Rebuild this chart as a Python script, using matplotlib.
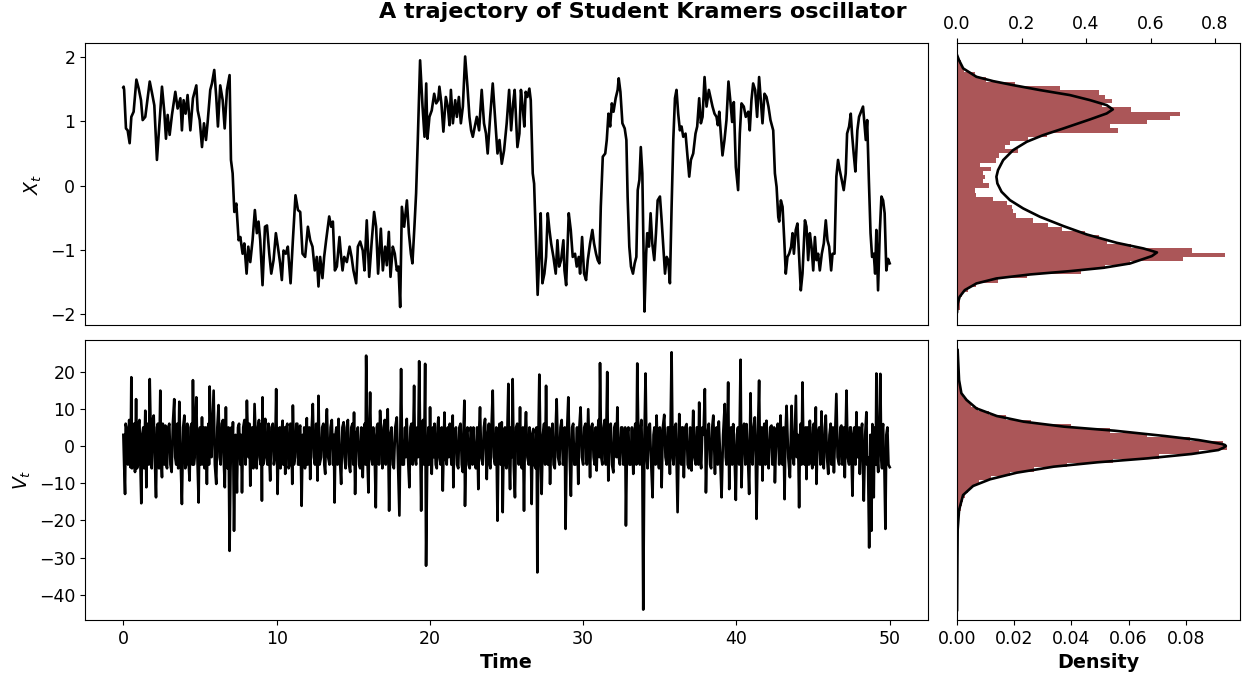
import numpy as np
import matplotlib
matplotlib.use("Agg")
import matplotlib.pyplot as plt

# =========================
# Position trajectory X_t
# =========================
x_time = [
    0.0, 0.02, 0.05, 0.17, 0.28, 0.41, 0.52, 0.67, 0.85, 1.0, 1.15, 1.26,
    1.43, 1.54, 1.72, 1.87, 2.02, 2.19, 2.37, 2.52, 2.67, 2.78, 2.89, 3.02,
    3.17, 3.39, 3.54, 3.72, 3.82, 3.93, 4.06, 4.19, 4.37, 4.54, 4.76, 4.85,
    4.98, 5.13, 5.26, 5.39, 5.50, 5.67, 5.78, 5.93, 6.06, 6.17, 6.32, 6.48,
    6.61, 6.76, 6.93, 7.02, 7.13, 7.24, 7.37, 7.52, 7.63, 7.78, 7.89, 8.04,
    8.15, 8.28, 8.43, 8.58, 8.71, 8.82, 8.93, 9.08, 9.24, 9.37, 9.52, 9.65,
    9.80, 9.95, 10.08, 10.23, 10.34, 10.45, 10.60, 10.73, 10.91, 11.06, 11.23, 11.39,
    11.54, 11.69, 11.86, 12.04, 12.19, 12.34, 12.49, 12.62, 12.73, 12.84, 12.99, 13.10,
    13.23, 13.43, 13.56, 13.67, 13.80, 13.93, 14.10, 14.21, 14.30, 14.41, 14.58, 14.76,
    14.89, 15.01, 15.19, 15.30, 15.45, 15.62, 15.73, 15.88, 16.04, 16.21, 16.36, 16.49,
    16.62, 16.80, 16.93, 17.08, 17.19, 17.32, 17.43, 17.58, 17.71, 17.84, 17.95, 18.06,
    18.17, 18.32, 18.50, 18.63, 18.76, 18.86, 18.99, 19.10, 19.21, 19.36, 19.52, 19.65,
    19.76, 19.84, 19.97, 20.12, 20.28, 20.41, 20.54, 20.62, 20.75, 20.88, 21.04, 21.17,
    21.28, 21.37, 21.50, 21.65, 21.76, 21.89, 22.02, 22.15, 22.30, 22.45, 22.58, 22.69,
    22.80, 22.93, 23.06, 23.21, 23.38, 23.53, 23.66, 23.77, 23.93, 24.10, 24.25, 24.41,
    24.54, 24.69, 24.84, 25.01, 25.17, 25.30, 25.43, 25.53, 25.71, 25.84, 25.94, 26.05,
    26.16, 26.25, 26.36, 26.49, 26.58, 26.71, 26.80, 26.92, 27.03, 27.14, 27.23, 27.34,
    27.47, 27.58, 27.69, 27.80, 27.91, 28.06, 28.21, 28.32, 28.43, 28.56, 28.71, 28.78,
    28.89, 29.06, 29.19, 29.32, 29.47, 29.58, 29.71, 29.80, 29.93, 30.06, 30.19, 30.30,
    30.45, 30.60, 30.71, 30.84, 30.95, 31.06, 31.15, 31.28, 31.44, 31.54, 31.65, 31.76,
    31.87, 31.98, 32.12, 32.25, 32.32, 32.43, 32.56, 32.71, 32.82, 32.90, 33.01, 33.12,
    33.25, 33.36, 33.47, 33.56, 33.67, 33.76, 33.86, 34.00, 34.11, 34.18, 34.29, 34.40,
    34.51, 34.64, 34.75, 34.86, 35.01, 35.12, 35.23, 35.34, 35.45, 35.55, 35.66, 35.77,
    35.88, 35.99, 36.09, 36.20, 36.31, 36.42, 36.53, 36.68, 36.81, 36.92, 37.03, 37.18,
    37.33, 37.44, 37.57, 37.68, 37.79, 37.92, 38.05, 38.20, 38.44, 38.57, 38.70, 38.79,
    38.88, 38.98, 39.09, 39.22, 39.35, 39.48, 39.61, 39.72, 39.83, 39.96, 40.11, 40.22,
    40.33, 40.48, 40.61, 40.77, 40.87, 40.98, 41.09, 41.22, 41.35, 41.48, 41.59, 41.70,
    41.83, 41.96, 42.09, 42.22, 42.40, 42.51, 42.62, 42.73, 42.79, 42.90, 43.01, 43.12,
    43.22, 43.33, 43.44, 43.57, 43.66, 43.75, 43.87, 43.98, 44.09, 44.20, 44.31, 44.47,
    44.57, 44.68, 44.79, 44.90, 45.01, 45.12, 45.22, 45.33, 45.44, 45.57, 45.70, 45.83,
    45.94, 46.05, 46.18, 46.27, 46.40, 46.52, 46.63, 46.74, 46.87, 47.00, 47.13, 47.22,
    47.35, 47.46, 47.54, 47.65, 47.76, 47.89, 48.00, 48.13, 48.26, 48.35, 48.44, 48.53,
    48.64, 48.75, 48.85, 48.96, 49.05, 49.13, 49.24, 49.35, 49.46, 49.57, 49.67, 49.78,
    49.89, 50.0,
]
x_value = [
    1.53, 1.54, 1.49, 0.89, 0.86, 0.66, 1.07, 1.15, 1.65, 1.51, 1.33, 1.02,
    1.07, 1.28, 1.62, 1.44, 1.25, 0.40, 1.02, 1.54, 1.15, 0.73, 1.10, 0.79,
    1.10, 1.46, 1.20, 1.36, 0.86, 1.33, 1.12, 1.41, 0.86, 1.36, 1.56, 1.17,
    1.02, 0.60, 0.97, 0.71, 0.99, 1.49, 1.59, 1.80, 1.38, 0.92, 1.56, 1.33,
    0.89, 1.49, 1.72, 0.40, 0.19, -0.41, -0.28, -0.85, -0.80, -1.06, -0.90, -1.37,
    -0.95, -1.19, -0.85, -0.38, -0.74, -0.56, -0.85, -1.55, -0.64, -0.62, -1.06, -1.37,
    -1.16, -0.74, -0.95, -1.21, -1.47, -1.01, -1.06, -0.95, -1.52, -0.85, -0.15, -0.38,
    -0.41, -1.06, -1.11, -0.64, -0.85, -0.95, -1.32, -1.11, -1.57, -1.11, -1.44, -1.11,
    -0.85, -0.48, -0.64, -0.56, -1.32, -1.26, -0.80, -1.11, -1.32, -1.11, -1.19, -0.95,
    -1.11, -1.32, -1.52, -0.95, -0.87, -1.01, -1.32, -0.54, -1.42, -0.85, -0.41, -0.64,
    -1.37, -0.67, -1.32, -0.95, -1.24, -0.72, -1.42, -0.95, -1.06, -1.32, -1.26, -1.89,
    -0.33, -0.64, -0.23, -0.74, -1.06, -1.21, -0.64, -0.12, 0.71, 1.95, 1.23, 0.76,
    1.59, 0.73, 1.07, 1.17, 1.43, 1.28, 1.33, 1.54, 1.28, 0.84, 1.38, 1.23,
    0.94, 1.49, 0.97, 1.33, 1.07, 1.38, 0.97, 1.23, 2.01, 1.54, 1.07, 0.86,
    0.76, 0.92, 1.07, 0.86, 1.49, 0.97, 0.81, 0.50, 1.07, 1.59, 1.07, 0.50,
    0.71, 0.34, 0.55, 0.97, 1.49, 0.86, 1.28, 1.49, 0.60, 0.81, 1.49, 1.23,
    0.92, 1.46, 1.38, 1.51, 1.33, 0.19, 0.03, -0.90, -1.70, -1.06, -0.43, -1.52,
    -1.37, -1.11, -0.43, -0.69, -0.90, -1.11, -1.37, -0.85, -1.26, -1.16, -0.85, -1.32,
    -1.55, -0.43, -0.69, -1.11, -1.06, -1.26, -1.11, -1.37, -0.80, -1.37, -1.47, -1.16,
    -0.90, -0.69, -0.90, -1.06, -1.16, -1.21, -0.33, 0.45, 0.50, 0.71, 1.12, 0.92,
    1.28, 1.15, 1.36, 1.49, 1.67, 1.46, 0.97, 0.89, 0.71, -0.17, -0.95, -1.26,
    -1.37, -1.21, -1.11, -0.07, 0.09, 0.60, 0.19, -1.96, -1.06, -0.74, -0.95, -0.43,
    -0.90, -1.16, -0.74, -0.23, -0.17, -0.54, -0.95, -1.37, -1.11, -1.16, -1.52, -0.33,
    0.71, 1.36, 1.49, 1.12, 0.86, 0.92, 0.76, 0.81, 0.45, 0.14, 0.40, 0.50,
    0.81, 0.92, 1.36, 0.97, 1.07, 1.69, 1.23, 1.49, 1.23, 1.12, 1.07, 0.94,
    1.15, 0.81, 0.47, 0.71, 1.02, 1.62, 1.30, 0.99, 1.30, 0.29, -0.07, 0.81,
    1.28, 1.23, 1.07, 1.15, 0.86, 1.33, 1.59, 1.49, 1.07, 1.69, 1.33, 0.97,
    1.43, 1.38, 1.23, 1.02, 0.86, 0.19, -0.02, -0.49, -0.56, -0.23, -0.33, -0.85,
    -1.37, -1.11, -1.06, -0.95, -0.74, -1.06, -0.69, -0.59, -1.11, -1.63, -1.37, -0.54,
    -0.64, -1.16, -0.74, -0.95, -1.32, -0.80, -1.16, -1.06, -1.32, -1.06, -0.90, -0.54,
    -0.85, -0.95, -1.32, -1.06, -1.06, 0.14, 0.40, 0.24, 0.09, -0.07, 0.19, 0.81,
    0.92, 1.12, 0.81, 0.50, 0.22, 0.86, 1.07, 1.15, 1.23, 0.97, 0.71, 1.02,
    0.09, -0.74, -1.11, -1.06, -1.37, -0.69, -1.63, -0.74, -0.17, -0.23, -0.43, -1.32,
    -1.14, -1.21,
]

# =========================
# Velocity trajectory V_t
# =========================
v_time = [
    0.0, 0.05, 0.11, 0.15, 0.2, 0.25, 0.3, 0.38, 0.46, 0.49, 0.52, 0.56,
    0.6, 0.65, 0.7, 0.76, 0.83, 0.89, 0.95, 1.0, 1.05, 1.11, 1.17, 1.23,
    1.3, 1.36, 1.43, 1.46, 1.50, 1.55, 1.6, 1.66, 1.72, 1.78, 1.85, 1.91,
    1.98, 2.05, 2.13, 2.19, 2.25, 2.33, 2.41, 2.46, 2.52, 2.57, 2.62, 2.68,
    2.74, 2.8, 2.85, 2.92, 3.0, 3.07, 3.15, 3.23, 3.32, 3.38, 3.45, 3.52,
    3.58, 3.65, 3.73, 3.82, 3.9, 3.98, 4.04, 4.1, 4.17, 4.24, 4.32, 4.38,
    4.45, 4.5,
    4.54, 4.6, 4.65, 4.7, 4.76, 4.83, 4.91, 4.96, 5.0, 5.06, 5.13, 5.2,
    5.25, 5.3, 5.38, 5.45, 5.5, 5.55, 5.59, 5.63, 5.69, 5.75, 5.82, 5.89, 5.97,
    6.06, 6.13, 6.21, 6.28, 6.35, 6.42, 6.5, 6.56, 6.62, 6.69, 6.74, 6.8,
    6.86, 6.93, 6.99, 7.05, 7.1, 7.15, 7.22, 7.27, 7.32, 7.37,
    7.41, 7.48, 7.55, 7.63, 7.68, 7.74, 7.82, 7.9, 7.98, 8.06, 8.12, 8.17,
    8.22, 8.28, 8.34, 8.4, 8.48, 8.56, 8.63, 8.7, 8.78, 8.85, 8.9, 8.96, 9.0,
    9.04, 9.08, 9.12, 9.17, 9.21, 9.26, 9.33, 9.4, 9.47, 9.52, 9.58, 9.66,
    9.75, 9.82, 9.88, 9.93, 9.97, 10.06, 10.13, 10.2, 10.25, 10.3, 10.35,
    10.39, 10.43, 10.47, 10.52, 10.56, 10.63, 10.7, 10.78, 10.85, 10.9, 10.95, 10.99,
    11.02, 11.06, 11.13, 11.2, 11.28, 11.35, 11.4, 11.45, 11.5, 11.54, 11.58,
    11.63, 11.7, 11.76, 11.8, 11.85, 11.9, 11.94, 11.97, 12.02, 12.08, 12.13, 12.19,
    12.27, 12.36, 12.43, 12.5, 12.58, 12.67, 12.73, 12.8, 12.9, 12.97, 13.05, 13.11,
    13.17, 13.22, 13.28, 13.36, 13.45, 13.52, 13.6, 13.68, 13.73, 13.78, 13.84, 13.9,
    13.97, 14.04, 14.12, 14.21, 14.29, 14.37, 14.43, 14.5, 14.57, 14.65, 14.72, 14.8, 14.87,
    14.95, 15.0, 15.05, 15.09, 15.12, 15.2, 15.3, 15.38, 15.45, 15.53, 15.62, 15.69,
    15.75, 15.8, 15.84, 15.92, 15.99, 16.05, 16.10, 16.17, 16.25, 16.3, 16.35, 16.41,
    16.47, 16.53, 16.6, 16.68, 16.75, 16.82, 16.9, 16.98, 17.05, 17.12, 17.18, 17.25,
    17.34, 17.42, 17.5, 17.58, 17.65, 17.74, 17.84, 17.92, 18.01, 18.12, 18.2,
    18.3, 18.38, 18.43, 18.49, 18.57, 18.66, 18.73, 18.8, 18.88, 18.97, 19.03, 19.1,
    19.17, 19.23, 19.30, 19.43, 19.49, 19.55, 19.62, 19.69, 19.75, 19.82, 19.9, 19.96,
    20.01, 20.06, 20.12, 20.2, 20.25, 20.3, 20.38, 20.45, 20.5, 20.56, 20.63, 20.7,
    20.77, 20.84, 20.95, 21.02, 21.1, 21.17, 21.23, 21.3, 21.4, 21.49, 21.53, 21.6,
    21.7, 21.77, 21.85, 21.92, 22.0, 22.08, 22.15, 22.2, 22.25, 22.29, 22.37, 22.45,
    22.52, 22.6, 22.66, 22.72, 22.78, 22.84, 22.92, 23.0, 23.08, 23.16, 23.22,
    23.27, 23.35, 23.45, 23.52, 23.60, 23.71, 23.78, 23.85, 23.9, 23.95, 24.02, 24.10,
    24.17, 24.25, 24.33, 24.41, 24.48, 24.55, 24.62, 24.69, 24.75, 24.82,
    24.9, 24.95, 25.0, 25.06, 25.12, 25.17, 25.23, 25.3, 25.35, 25.40, 25.47, 25.55,
    25.62, 25.7, 25.8, 25.88, 25.94, 26.0, 26.07, 26.14, 26.2, 26.27, 26.36, 26.45, 26.5,
    26.55, 26.6, 26.64, 26.7, 26.75, 26.82, 26.9, 26.96, 27.01, 27.08, 27.14, 27.22,
    27.29, 27.37, 27.45, 27.52, 27.58, 27.64, 27.7, 27.77, 27.84, 27.92, 28.0, 28.07,
    28.15, 28.21, 28.27, 28.36, 28.45, 28.52, 28.6, 28.68, 28.75, 28.8, 28.85, 28.94,
    29.03, 29.12, 29.20, 29.28, 29.35, 29.42, 29.5, 29.6, 29.68, 29.75, 29.83, 29.92,
    30.0, 30.07, 30.15, 30.24, 30.33, 30.45, 30.52, 30.6, 30.68, 30.75, 30.82, 30.88,
    30.94, 31.0, 31.05, 31.10, 31.18, 31.25, 31.33, 31.4, 31.48, 31.57,
    31.64, 31.72, 31.8, 31.88, 31.97, 32.03, 32.1, 32.17, 32.23, 32.32, 32.4, 32.48,
    32.55, 32.62, 32.68, 32.74, 32.79, 32.87, 32.95, 33.02, 33.1, 33.18, 33.27, 33.34,
    33.4, 33.47, 33.53, 33.62, 33.7, 33.75, 33.8, 33.86, 33.92, 34.0, 34.07, 34.14,
    34.2, 34.28, 34.35, 34.44, 34.53, 34.59, 34.65, 34.72, 34.79, 34.87, 34.95, 35.0,
    35.05, 35.12, 35.2, 35.29, 35.37, 35.45, 35.52, 35.58, 35.66, 35.77, 35.84, 35.9,
    35.97, 36.05, 36.1, 36.16, 36.27, 36.33, 36.4, 36.45,
    36.5, 36.57, 36.66, 36.75, 36.82, 36.9, 36.98, 37.07, 37.18, 37.26, 37.35, 37.41,
    37.47, 37.52, 37.57, 37.63, 37.7, 37.78, 37.85, 37.94,
    38.01, 38.1, 38.2, 38.28, 38.35, 38.42, 38.49, 38.60, 38.65, 38.7, 38.78, 38.85,
    38.94, 39.03, 39.13, 39.24, 39.3, 39.35, 39.41, 39.46, 39.53, 39.59,
    39.65, 39.72, 39.79, 39.88, 39.96, 40.03, 40.1, 40.18, 40.27, 40.33, 40.42, 40.5,
    40.58, 40.66, 40.75, 40.83, 40.92, 40.98, 41.05, 41.12, 41.20, 41.26,
    41.31, 41.4, 41.48, 41.54, 41.6, 41.65, 41.70, 41.76, 41.82, 41.89, 41.96, 42.03,
    42.1, 42.2, 42.29, 42.35, 42.4, 42.46, 42.51, 42.6, 42.7, 42.79, 42.88, 42.94,
    43.0, 43.07, 43.14, 43.2, 43.27, 43.38, 43.49, 43.55, 43.60, 43.68, 43.75, 43.82,
    43.88, 43.94, 44.0, 44.05, 44.09, 44.15, 44.2, 44.25, 44.31, 44.38, 44.45, 44.51,
    44.57, 44.63, 44.68, 44.73, 44.79, 44.87, 44.95, 45.0, 45.05, 45.12, 45.18, 45.22,
    45.3, 45.4, 45.48, 45.55, 45.62, 45.7, 45.77, 45.83, 45.91, 45.99, 46.07,
    46.15, 46.2, 46.25, 46.3, 46.36, 46.44, 46.52, 46.6, 46.7, 46.78, 46.85, 46.9,
    46.96, 47.02, 47.07, 47.18, 47.26, 47.35, 47.41, 47.47, 47.52, 47.57, 47.64,
    47.7, 47.77, 47.83, 47.89, 47.95, 48.0, 48.05, 48.12, 48.2, 48.25, 48.31, 48.4,
    48.48, 48.53, 48.58, 48.66, 48.74, 48.81, 48.87, 48.92,
    48.96, 49.0, 49.05, 49.09, 49.13, 49.19, 49.25, 49.32, 49.39, 49.45, 49.5, 49.54,
    49.57, 49.61, 49.65, 49.72, 49.78, 49.85, 49.92, 50.0,
]
v_value = [
    3, -5, -12.9, 6, 5, -3, -5, 7, -5.7, 5, 18.5, -6,
    -3, 5, 6, -7, 12.6, -6, -5, 6, 7, -5, -15.4, 3,
    5, -6, 9.5, 3, -11.1, 6, 3, -5, 18.0, 5, -6, 7,
    8.2, -3, -13.8, 5, 6, -6, 14.9, -3, -8.4, 6, 5, -5,
    5.5, -5, -6, 5, 6, -5, -7, 6, 12.6, -3, -5, 6,
    -6, 11.9, -3, -15.6, 5, 8.2, -6, -5, 6, -3, -9.3, 5,
    6, -5,
    17.7, -5, -3, 6, 13.1, -3, -15.2, 3, 5, -5, 7.7, -5,
    5, -6, 5, -10.2, 3, 6, -5, 16.0, 5, -3, 6, 14.9, -5,
    -10.2, 5, 11.0, -3, -5, 6, 7, -5, -11.1, 10.4, -3, -6,
    5, -28.2, -7, 5, -3, 6.4, -22.8, -8, 3, -5,
    -12.5, 5, 6, -5, 3, -12.5, 5, 7, -5, 12.2, 3, -3,
    6, -10.7, 3, 5, -6, 11.3, 3, -6, 5, 7, -3, -5, 6,
    -14.7, 13.1, -5, -3, 5, 7.3, -3, -5, 6, -3, -9.3, 5,
    6, -5, -3, 5, 15.3, -12.9, 3, 5, -6, -3, 5,
    6.8, -5, -2, 5, -7.5, 5, 6, -6, -5, 6, 5, -3,
    -10.2, 10.9, -5, -3, 6, 6, -5, -5, 5, 5.5, -3,
    -16.1, 3, -5, 5, -6, -3, 5, 7.5, -5, 2, 5, -8.9,
    3, 11.3, -3, -5, 6, -9.3, 13.5, -5, -3, 5, 6, -5,
    -7.5, 5, 9.9, -3, -5, 5, 7, -5, 3, -15.2, 3, 5,
    -5, 7.3, -3, -10.2, 5, 6.4, -3, -6, 5, 7, -5, -7, 5,
    6, -5, 9.0, -3, -12.9, 3, 5, -5, -6, 5, -8.4, 3,
    6, -5, 24.3, -3, -12.5, 5, 14.4, -3, -5, 5, 3, -5,
    -16.5, 5, 6, -5, 9.5, 3, -6, 5, 7, -5, 5, 9.9,
    -17.4, 3, 5, -5, -6, 5, 7.7, -5, -18.7, 20.7, -5,
    -5, 5, -3, 7.3, -3, -11.1, 5, 6, -5, 16.2, -3, -5,
    5, -3, 22.8, -17.4, 3, 7, -5, 22.1, -32.2, -6, 5, -5,
    10.4, -3, -7.5, 5, -3, 6, -5, -6, 5, 7.7, -3, -5,
    5, -12.0, 9.0, -3, -5, 5, -3, 6, -5, 8.2, -11.1, 3,
    5, -5, -6, 5, 6, -5, -7, 5, 12.2, -16.1, 3, 5,
    -5, -6, 5, 3, -5, 5.0, -3, -6, 5, -11.6, 5,
    10.4, -3, -5, 5, 7.3, -8.9, 3, 6, -5, -6, 5, 14.9,
    -3, -5, 5, -20.1, 3, 6, -5, 6.4, -17.8, 3,
    5, -5, -6, 5, 16.7, -3, -11.6, 5, -3, 18.0, -5, -13.8,
    5, 6, -5, 10.4, -3, -6, 5, -17.4, 3, 9.1, -3, -5, 5,
    3, -5, -15.6, 3, 4.6, -5, -6, 5, -34.0, 3, 19.2, -3,
    -12.9, 3, 6, -5, 16.2, -3, -5, 5, -10.2, 3, 6, -5,
    -6, 5, 12.6, -3, -5, 5, 7, -5, -3, 5, -22.3, 3,
    13.1, -3, -13.4, 5, 6, -5, -5, 5, -10.2, 5, 10.4, -3,
    -5, 5, 6, -5, 9.9, -8.4, 5, 6, -3, -5, 5, -6.6,
    3, 7, -3, 22.3, -3, -5, 5, 7, -5, 19.9,
    -9.3, 5, 6, -5, -7.1, 5, 6, -3, 10.4, -3, -5, 5,
    5, -5, -3, 5, -21.4, 3, 5, -5, -5, 5, -7.5, 3,
    6, -5, 22.2, -3, -5, 5, 7, -5, -44.0, 3, 19.5, -3,
    -6, 5, 6, -5, -13.8, 3, 5, -5, 8.2, -3, -6, 5,
    3, -11.1, 5, 8.4, -3, -5, 5, 5, -7.5, 25.2, -3, -5,
    5, 6, -5, -17.8, 8.6, -3, -5, 5,
    5, -8.4, 5, 5.9, -5, -6, 5, -6.6, 9.5, -3, -5, 5,
    5, -5, 11.7, -3, -6, 5, 3, 15.3,
    -12.5, 3, 6, -5, -6, 5, 8.2, -7.5, 3, 5, -5, 6.6,
    -3, -13.8, 3, 11.3, -3, -5, 5, 17.1, -11.6, 3,
    5, -5, 5.9, -3, -14.5, 3, 5, -5, 23.2, -11.1, 3, 6,
    -5, 5.9, -3, -12.9, 14.2, -3, -5, 5, 7.7, -3,
    -19.6, 3, 17.6, -5, -3, 5, -9.3, 3, 6, -5, 6.8, -3,
    -6, 5, 5.5, -5, -3, 5, -9.8, 3, 6, -5, 8.2, -3,
    -5, 5, -14.3, 3, 10.8, -3, -8.4, 3, 10.8, -3, -5, 5,
    13.5, -3, 3, -5, -16.5, 3, 6, -5, 17.1, -3, -5, 5,
    -8.9, 5, 3, -5, 6.8, -3, -6, 5, 6, -5, 10.4, -10.2,
    3, 5, -5, 9.3, -3, -6, 5, 8.2, -3, -7.5, 3,
    6, -5, -3, 5, -7.1, 3, 14.0, -3, -5, 5, 5.5, -5,
    -3, 5, -8.4, 14.9, -3, -5, 5, 5, -5, -13.4, 3,
    5, -5, 9.1, -3, -3, 5, -7.5, 3, 6, -5, -14.7, 3,
    9.1, -5, -3, -27.3, 3, -22.8, 5.9, -5,
    -13.8, 3, 5, -5, 19.5, -3, -7, 5, 19.4, -3, -6, 5,
    5.9, -3, -5, -22.3, 3, 5, -5, -5.7,
]

# =========================
# Histogram of X_t (bin edges and densities)
# =========================
x_bin_edges = [
    -1.938, -1.834, -1.730, -1.652, -1.574, -1.512, -1.445, -1.377, -1.305, -1.237,
    -1.175, -1.108, -1.046, -0.978, -0.911, -0.838, -0.770, -0.708, -0.641, -0.578,
    -0.511, -0.433, -0.371, -0.304, -0.241, -0.174, -0.112, -0.044, 0.034, 0.101,
    0.163, 0.231, 0.293, 0.355, 0.423, 0.501, 0.563, 0.630, 0.698, 0.760,
    0.822, 0.890, 0.952, 1.019, 1.082, 1.150, 1.217, 1.279, 1.341, 1.409,
    1.487, 1.549, 1.616, 1.694, 1.772, 1.850, 1.950, 2.031,
]
x_hist_density = [
    0.008, 0.01, 0.015, 0.035, 0.06, 0.127, 0.216, 0.385, 0.46, 0.535,
    0.70, 0.83, 0.73, 0.54, 0.465, 0.44, 0.397, 0.324, 0.283, 0.236,
    0.182, 0.174, 0.17, 0.155, 0.11, 0.06, 0.055, 0.10, 0.08, 0.086,
    0.08, 0.105, 0.07, 0.12, 0.13, 0.19, 0.15, 0.165, 0.22, 0.28,
    0.50, 0.475, 0.59, 0.66, 0.69, 0.54, 0.45, 0.48, 0.46, 0.44,
    0.32, 0.18, 0.09, 0.055, 0.02, 0.012, 0.004,
]

# stationary density of X_t
x_pdf_x = [
    -1.964, -1.834, -1.730, -1.626, -1.523, -1.445, -1.383, -1.331, -1.279, -1.211,
    -1.097, -1.040, -0.978, -0.890, -0.760, -0.630, -0.485, -0.355, -0.226, -0.096,
    0.034, 0.138, 0.241, 0.397, 0.553, 0.682, 0.786, 0.890, 1.030, 1.123,
    1.186, 1.253, 1.331, 1.409, 1.487, 1.564, 1.626, 1.694, 1.824, 1.953, 2.031,
]
x_pdf_d = [
    0.0, 0.002, 0.008, 0.024, 0.060, 0.122, 0.226, 0.350, 0.454, 0.537,
    0.604, 0.620, 0.578, 0.495, 0.402, 0.330, 0.257, 0.205, 0.164, 0.138,
    0.125, 0.122, 0.127, 0.143, 0.174, 0.216, 0.267, 0.330, 0.412, 0.464,
    0.483, 0.464, 0.412, 0.350, 0.257, 0.174, 0.112, 0.060, 0.019, 0.006, 0.0,
]

# =========================
# Histogram of V_t (60 equal bins) and density
# =========================
v_range = (-44.3, 25.8)
v_hist_density = [
    0.0002, 0, 0, 0, 0, 0, 0, 0, 0.0002, 0,
    0, 0.0002, 0, 0.0002, 0.0002, 0, 0.0002, 0.0002, 0.0004, 0.0004,
    0.0006, 0.0008, 0.0006, 0.0012, 0.0016, 0.0021, 0.0028, 0.0037, 0.0052, 0.0078,
    0.0120, 0.0185, 0.0268, 0.0385, 0.0545, 0.0705, 0.0845, 0.0945, 0.0930, 0.0815,
    0.0665, 0.0535, 0.0400, 0.0260, 0.0172, 0.0110, 0.0072, 0.0048, 0.0033, 0.0022,
    0.0016, 0.0011, 0.0008, 0.0006, 0.0004, 0.0003, 0.0002, 0.0002, 0.0002, 0.0002,
]
v_pdf_v = [
    -44.1, -31.5, -22.6, -17.2, -13.2, -10.75, -8.96, -7.17, -5.56, -4.39,
    -3.32, -2.15, -1.08, -0.45, 0.0, 0.27, 0.54, 1.61, 2.69, 4.12,
    5.20, 6.54, 8.06, 10.1, 12.4, 14.2, 17.7, 25.8,
]
v_pdf_d = [
    0.0, 0.0001, 0.0002, 0.0007, 0.0021, 0.0056, 0.0115, 0.0209, 0.0338, 0.049,
    0.0667, 0.082, 0.0914, 0.0932, 0.094, 0.0937, 0.0926, 0.0844, 0.0726, 0.055,
    0.0374, 0.0233, 0.0139, 0.0068, 0.0033, 0.0015, 0.0007, 0.0002,
]

# =========================
# Figure
# =========================
plt.rcParams["font.family"] = "DejaVu Sans"
plt.rcParams["font.size"] = 12.5

hist_color = "#AB5658"
lw = 1.9

fig = plt.figure(figsize=(12.47, 6.78), dpi=100)
ax_x = fig.add_axes([0.0682, 0.5206, 0.676, 0.416])
ax_v = fig.add_axes([0.0682, 0.0855, 0.676, 0.413], sharex=ax_x)
ax_hx = fig.add_axes([0.7675, 0.5206, 0.227, 0.416], sharey=ax_x)
ax_hv = fig.add_axes([0.7675, 0.0855, 0.227, 0.413], sharey=ax_v)

# trajectories
ax_x.plot(x_time, x_value, color="black", linewidth=lw)
ax_v.plot(v_time, v_value, color="black", linewidth=lw)

ax_x.set_xlim(-2.5, 52.5)
ax_x.set_ylim(-2.17, 2.22)
ax_x.set_yticks([-2, -1, 0, 1, 2])
ax_x.set_ylabel(r"$X_t$", fontsize=13.5)
ax_x.tick_params(axis="x", bottom=False, labelbottom=False)

ax_v.set_ylim(-46.8, 28.5)
ax_v.set_yticks([-40, -30, -20, -10, 0, 10, 20])
ax_v.set_xticks([0, 10, 20, 30, 40, 50])
ax_v.set_ylabel(r"$V_t$", fontsize=13.5)
ax_v.set_xlabel("Time", fontweight="bold", fontsize=13.8)

# histogram of X
x_edges = np.array(x_bin_edges)
ax_hx.barh(x_edges[:-1], x_hist_density, height=np.diff(x_edges),
           align="edge", color=hist_color, linewidth=0)
ax_hx.plot(x_pdf_d, x_pdf_x, color="black", linewidth=lw)
ax_hx.set_xlim(0, 0.878)
ax_hx.set_xticks([0.0, 0.2, 0.4, 0.6, 0.8])
ax_hx.xaxis.tick_top()
ax_hx.tick_params(axis="y", left=False, labelleft=False)

# histogram of V
v_edges = np.linspace(v_range[0], v_range[1], len(v_hist_density) + 1)
ax_hv.barh(v_edges[:-1], v_hist_density, height=np.diff(v_edges),
           align="edge", color=hist_color, linewidth=0)
ax_hv.plot(v_pdf_d, v_pdf_v, color="black", linewidth=lw)
ax_hv.set_xlim(0, 0.099)
ax_hv.set_xticks([0.0, 0.02, 0.04, 0.06, 0.08])
ax_hv.set_xticklabels(["0.00", "0.02", "0.04", "0.06", "0.08"])
ax_hv.tick_params(axis="y", left=False, labelleft=False)
ax_hv.set_xlabel("Density", fontweight="bold", fontsize=13.8)

fig.text(0.5156, 0.982, "A trajectory of Student Kramers oscillator",
         ha="center", va="center", fontweight="bold", fontsize=16)

fig.savefig("out.png", dpi=100)
